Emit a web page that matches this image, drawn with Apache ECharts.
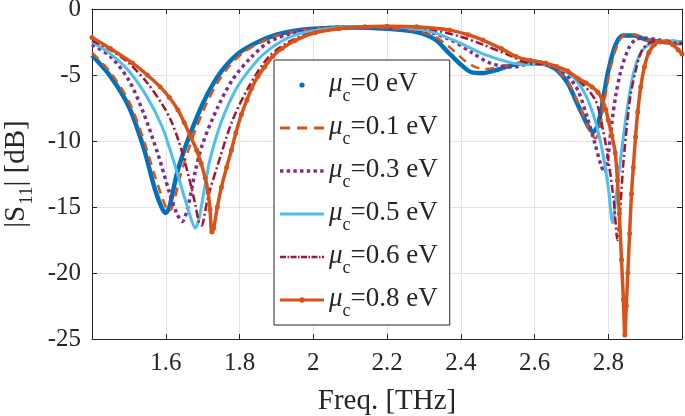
<!DOCTYPE html>
<html>
<head>
<meta charset="utf-8">
<script src="https://cdn.jsdelivr.net/npm/echarts@6/dist/echarts.min.js"></script>
<style>html,body{margin:0;padding:0;background:#fff;}#c{width:685px;height:416px;}</style>
</head>
<body>
<div id="c"></div>
<script>
// ---- data (frequency in THz, |S11| in dB) ----
const seriesNames = ['μc=0 eV', 'μc=0.1 eV', 'μc=0.3 eV', 'μc=0.5 eV', 'μc=0.6 eV', 'μc=0.8 eV'];
const xTicks = [1.6, 1.8, 2, 2.2, 2.4, 2.6, 2.8];
const yTicks = [0, -5, -10, -15, -20, -25];

const mu00 = [[1.40,-3.5],[1.45,-5.1],[1.50,-7.4],[1.54,-10.5],[1.57,-13.6],[1.59,-15.1],[1.60,-15.45],[1.61,-15.0],[1.63,-12.5],[1.65,-10.7],[1.67,-9.2],[1.70,-7.2],[1.73,-5.6],[1.76,-4.4],[1.80,-3.3],[1.85,-2.5],[1.90,-1.95],[1.95,-1.65],[2.00,-1.5],[2.10,-1.4],[2.20,-1.5],[2.28,-1.75],[2.33,-2.3],[2.37,-3.4],[2.40,-4.2],[2.43,-4.8],[2.46,-4.85],[2.50,-4.6],[2.54,-4.25],[2.60,-4.0],[2.63,-4.2],[2.66,-4.6],[2.69,-5.6],[2.71,-6.8],[2.73,-8.0],[2.75,-9.1],[2.76,-9.3],[2.77,-8.9],[2.78,-7.8],[2.79,-6.2],[2.80,-4.7],[2.82,-2.7],[2.84,-2.0],[2.87,-2.0],[2.90,-2.3],[2.95,-2.5],[3.00,-2.6]];
const mu01 = [[1.40,-3.3],[1.45,-4.8],[1.50,-7.0],[1.54,-9.9],[1.57,-12.6],[1.60,-15.0],[1.61,-15.3],[1.62,-14.8],[1.64,-12.6],[1.66,-10.8],[1.68,-9.2],[1.71,-7.2],[1.74,-5.6],[1.77,-4.4],[1.81,-3.3],[1.86,-2.5],[1.91,-1.95],[1.96,-1.65],[2.00,-1.5],[2.10,-1.35],[2.20,-1.45],[2.28,-1.65],[2.33,-2.1],[2.37,-2.9],[2.41,-3.9],[2.44,-4.4],[2.47,-4.55],[2.51,-4.35],[2.55,-4.1],[2.60,-4.0],[2.63,-4.2],[2.66,-4.6],[2.69,-5.5],[2.71,-6.6],[2.73,-7.9],[2.75,-9.2],[2.765,-9.8],[2.775,-9.3],[2.785,-7.8],[2.795,-6.1],[2.805,-4.6],[2.825,-2.7],[2.845,-1.95],[2.87,-1.95],[2.90,-2.3],[2.95,-2.5],[3.00,-2.6]];
const mu03 = [[1.40,-2.7],[1.45,-3.6],[1.50,-5.4],[1.54,-7.9],[1.58,-11.1],[1.61,-13.9],[1.63,-15.5],[1.645,-16.1],[1.66,-15.0],[1.68,-12.3],[1.70,-10.2],[1.74,-7.5],[1.78,-5.4],[1.83,-3.7],[1.88,-2.5],[1.94,-1.85],[2.00,-1.55],[2.10,-1.35],[2.20,-1.35],[2.30,-1.65],[2.37,-2.3],[2.43,-3.3],[2.48,-4.1],[2.54,-4.4],[2.59,-4.15],[2.63,-4.2],[2.67,-4.6],[2.70,-5.4],[2.72,-6.3],[2.745,-8.4],[2.765,-10.3],[2.78,-11.8],[2.79,-12.4],[2.80,-11.0],[2.81,-8.6],[2.82,-6.6],[2.835,-4.6],[2.855,-3.0],[2.875,-2.3],[2.90,-2.2],[2.94,-2.35],[3.00,-2.5]];
const mu05 = [[1.40,-2.5],[1.45,-3.4],[1.50,-4.7],[1.55,-6.7],[1.59,-8.9],[1.62,-11.4],[1.65,-14.2],[1.67,-16.0],[1.68,-16.6],[1.69,-15.9],[1.705,-13.6],[1.72,-11.4],[1.75,-8.6],[1.79,-6.1],[1.83,-4.5],[1.87,-3.3],[1.93,-2.2],[2.00,-1.65],[2.10,-1.35],[2.20,-1.3],[2.30,-1.6],[2.34,-1.9],[2.40,-2.6],[2.46,-3.4],[2.54,-4.1],[2.58,-4.2],[2.63,-4.2],[2.67,-4.5],[2.71,-5.3],[2.74,-6.6],[2.765,-8.5],[2.785,-10.9],[2.80,-13.5],[2.812,-16.2],[2.822,-14.0],[2.835,-11.0],[2.85,-7.8],[2.865,-5.3],[2.88,-3.8],[2.90,-2.9],[2.93,-2.5],[2.97,-2.4],[3.00,-2.5]];
const mu06 = [[1.40,-2.4],[1.45,-3.1],[1.50,-4.1],[1.55,-5.6],[1.59,-7.2],[1.615,-8.5],[1.635,-10.0],[1.65,-11.4],[1.665,-13.0],[1.68,-14.8],[1.69,-16.1],[1.698,-16.4],[1.705,-15.6],[1.715,-14.2],[1.74,-11.9],[1.78,-8.5],[1.825,-5.9],[1.88,-3.6],[1.94,-2.4],[2.00,-1.8],[2.10,-1.4],[2.20,-1.3],[2.30,-1.45],[2.40,-2.1],[2.46,-2.7],[2.54,-3.6],[2.58,-4.1],[2.63,-4.2],[2.68,-4.6],[2.72,-5.4],[2.765,-6.9],[2.786,-9.2],[2.80,-11.4],[2.815,-14.5],[2.825,-17.5],[2.833,-15.0],[2.84,-12.0],[2.85,-9.0],[2.86,-6.6],[2.875,-4.6],[2.89,-3.2],[2.91,-2.6],[2.94,-2.4],[2.97,-2.5],[3.00,-2.6]];
const mu08 = [[1.40,-2.15],[1.45,-3.0],[1.51,-4.1],[1.55,-5.0],[1.585,-5.9],[1.61,-6.7],[1.633,-7.65],[1.65,-8.6],[1.668,-9.7],[1.684,-10.7],[1.696,-11.7],[1.707,-12.8],[1.715,-13.9],[1.72,-15.2],[1.725,-16.9],[1.73,-16.6],[1.74,-15.0],[1.751,-13.5],[1.765,-12.0],[1.778,-10.7],[1.79,-9.4],[1.805,-8.0],[1.82,-6.9],[1.833,-6.0],[1.85,-5.1],[1.868,-4.4],[1.89,-3.6],[1.915,-3.0],[1.95,-2.4],[2.005,-1.8],[2.07,-1.5],[2.14,-1.35],[2.20,-1.3],[2.28,-1.35],[2.37,-1.6],[2.42,-1.95],[2.46,-2.35],[2.51,-3.0],[2.55,-3.6],[2.59,-3.9],[2.63,-4.1],[2.66,-4.35],[2.69,-4.7],[2.72,-5.3],[2.74,-5.6],[2.756,-5.9],[2.772,-6.3],[2.784,-6.9],[2.793,-7.6],[2.80,-8.4],[2.81,-9.6],[2.819,-10.9],[2.825,-13.0],[2.83,-15.5],[2.836,-19.0],[2.841,-22.0],[2.845,-24.7],[2.849,-22.5],[2.853,-20.0],[2.858,-17.0],[2.863,-14.0],[2.868,-12.0],[2.874,-9.7],[2.88,-7.8],[2.888,-5.9],[2.898,-4.4],[2.91,-3.3],[2.925,-2.7],[2.94,-2.5],[2.955,-2.5],[2.975,-2.7],[2.99,-3.1],[3.00,-3.4]];

const seriesData = [mu00, mu01, mu03, mu05, mu06, mu08];

// ---- styles ----
const FONT = '"Liberation Serif", "Times New Roman", serif';
const TXT = '#262626';
const colors = ['#0072BD', '#D95319', '#7E2F8E', '#4DBEEE', '#A2142F', '#D95319'];
const widths = [4.5, 2.5, 3.5, 3, 2.5, 3.5];
const dashes = ['solid', [9, 6], [3.5, 3.5], 'solid', [8, 3, 2, 3], 'solid'];

// legend icons (44 x 10 boxes)
const box = 'M0,0M44,10';
const circ = (cx, r) => `M${cx - r},5A${r},${r},0,1,1,${cx + r},5A${r},${r},0,1,1,${cx - r},5Z`;
const bar = (x0, x1, h) => `M${x0},${5 - h / 2}H${x1}V${5 + h / 2}H${x0}Z`;
let dotIcon = box;
for (let k = 0; k < 7; k++) dotIcon += bar(k * 6.7, k * 6.7 + 3.4, 3.4);
let dashDotIcon = box;
[[0,6],[7.5,9],[10.5,16.5],[18,19.5],[21,27],[28.5,30],[31.5,37.5],[39,40.5],[42,44]].forEach(s => dashDotIcon += bar(s[0], s[1], 2.6));
const icons = [
  'path://' + box + circ(22, 2.6),
  'path://' + box + bar(0, 10, 3) + bar(17, 27, 3) + bar(34, 44, 3),
  'path://' + dotIcon,
  'path://' + box + bar(0, 44, 3),
  'path://' + dashDotIcon,
  'path://' + box + bar(0, 44, 3) + circ(22, 2.8)
];

const chart = echarts.init(document.getElementById('c'), null, { renderer: 'canvas' });

const fmtX = v => {
  const r = Math.round(v * 10) / 10;
  if (r < 1.45 || r > 2.95) return '';
  return xTicks.indexOf(r) >= 0 ? String(r) : '';
};
const fmtY = v => {
  const r = Math.round(v);
  return yTicks.indexOf(r) >= 0 ? String(r) : '';
};

const axisCommon = {
  axisLine: { show: true, onZero: false, lineStyle: { color: TXT, width: 1 } },
  axisTick: { show: true, inside: true, length: 5, lineStyle: { color: TXT, width: 1 } },
};

chart.setOption({
  animation: false,
  backgroundColor: '#fff',
  grid: { left: 92, right: 3, top: 9, bottom: 77, containLabel: false, outerBoundsMode: 'none' },
  xAxis: [
    Object.assign({
      type: 'value', min: 1.4, max: 3.0, interval: 0.2,
      axisLabel: { formatter: fmtX, fontFamily: FONT, fontSize: 25, color: TXT, margin: 12 },
      splitLine: { show: true, lineStyle: { color: '#e3e3e3', width: 1 } },
      name: 'Freq. [THz]', nameLocation: 'middle', nameGap: 48,
      nameTextStyle: { fontFamily: FONT, fontSize: 29, color: TXT, lineHeight: 29 }
    }, axisCommon),
    Object.assign({
      type: 'value', position: 'top', min: 1.4, max: 3.0, interval: 0.2,
      axisLabel: { show: false }, splitLine: { show: false }
    }, axisCommon)
  ],
  yAxis: [
    Object.assign({
      type: 'value', min: -25, max: 0, interval: 5,
      axisLabel: { formatter: fmtY, fontFamily: FONT, fontSize: 25, color: TXT, margin: 11 },
      splitLine: { show: true, lineStyle: { color: '#e3e3e3', width: 1 } },
      name: '{n||S}{s|11}{n|| [dB]}', nameLocation: 'middle', nameGap: 52,
      nameTextStyle: {
        fontFamily: FONT, fontSize: 29, color: TXT,
        rich: {
          n: { fontFamily: FONT, fontSize: 29, lineHeight: 28, verticalAlign: 'top', color: TXT },
          s: { fontFamily: FONT, fontSize: 19, lineHeight: 19, padding: [23, 0, 0, 1], color: TXT }
        }
      }
    }, axisCommon),
    Object.assign({
      type: 'value', position: 'right', min: -25, max: 0, interval: 5,
      axisLabel: { show: false }, splitLine: { show: false }
    }, axisCommon)
  ],
  legend: {
    orient: 'vertical', left: 274, top: 60,
    padding: [5, 12, 5, 6],
    itemWidth: 44, itemHeight: 10, itemGap: 3,
    backgroundColor: '#fff', borderColor: TXT, borderWidth: 1,
    selectedMode: false,
    itemStyle: { borderWidth: 0 },
    data: seriesNames.map((n, i) => ({ name: n, icon: icons[i] })),
    formatter: name => '{m|μ}{s|c}{t|' + name.slice(2) + '}',
    textStyle: {
      fontFamily: FONT, fontSize: 27, color: TXT,
      rich: {
        m: { fontFamily: FONT, fontSize: 27, fontStyle: 'italic', lineHeight: 30, verticalAlign: 'top', color: TXT },
        s: { fontFamily: FONT, fontSize: 18, lineHeight: 18, padding: [22, 0, 0, 0], color: TXT },
        t: { fontFamily: FONT, fontSize: 27, lineHeight: 30, verticalAlign: 'top', color: TXT }
      }
    }
  },
  series: seriesData.map((d, i) => ({
    name: seriesNames[i],
    type: 'line',
    xAxisIndex: 0, yAxisIndex: 0,
    data: d,
    smooth: 0.3,
    symbol: i === 5 ? 'circle' : 'none',
    symbolSize: 5,
    showSymbol: i === 5,
    showAllSymbol: true,
    itemStyle: { color: colors[i], borderWidth: 0 },
    lineStyle: { color: colors[i], width: widths[i], type: dashes[i], cap: 'butt' },
    emphasis: { disabled: true },
    z: 2 + i
  }))
});
</script>
</body>
</html>
